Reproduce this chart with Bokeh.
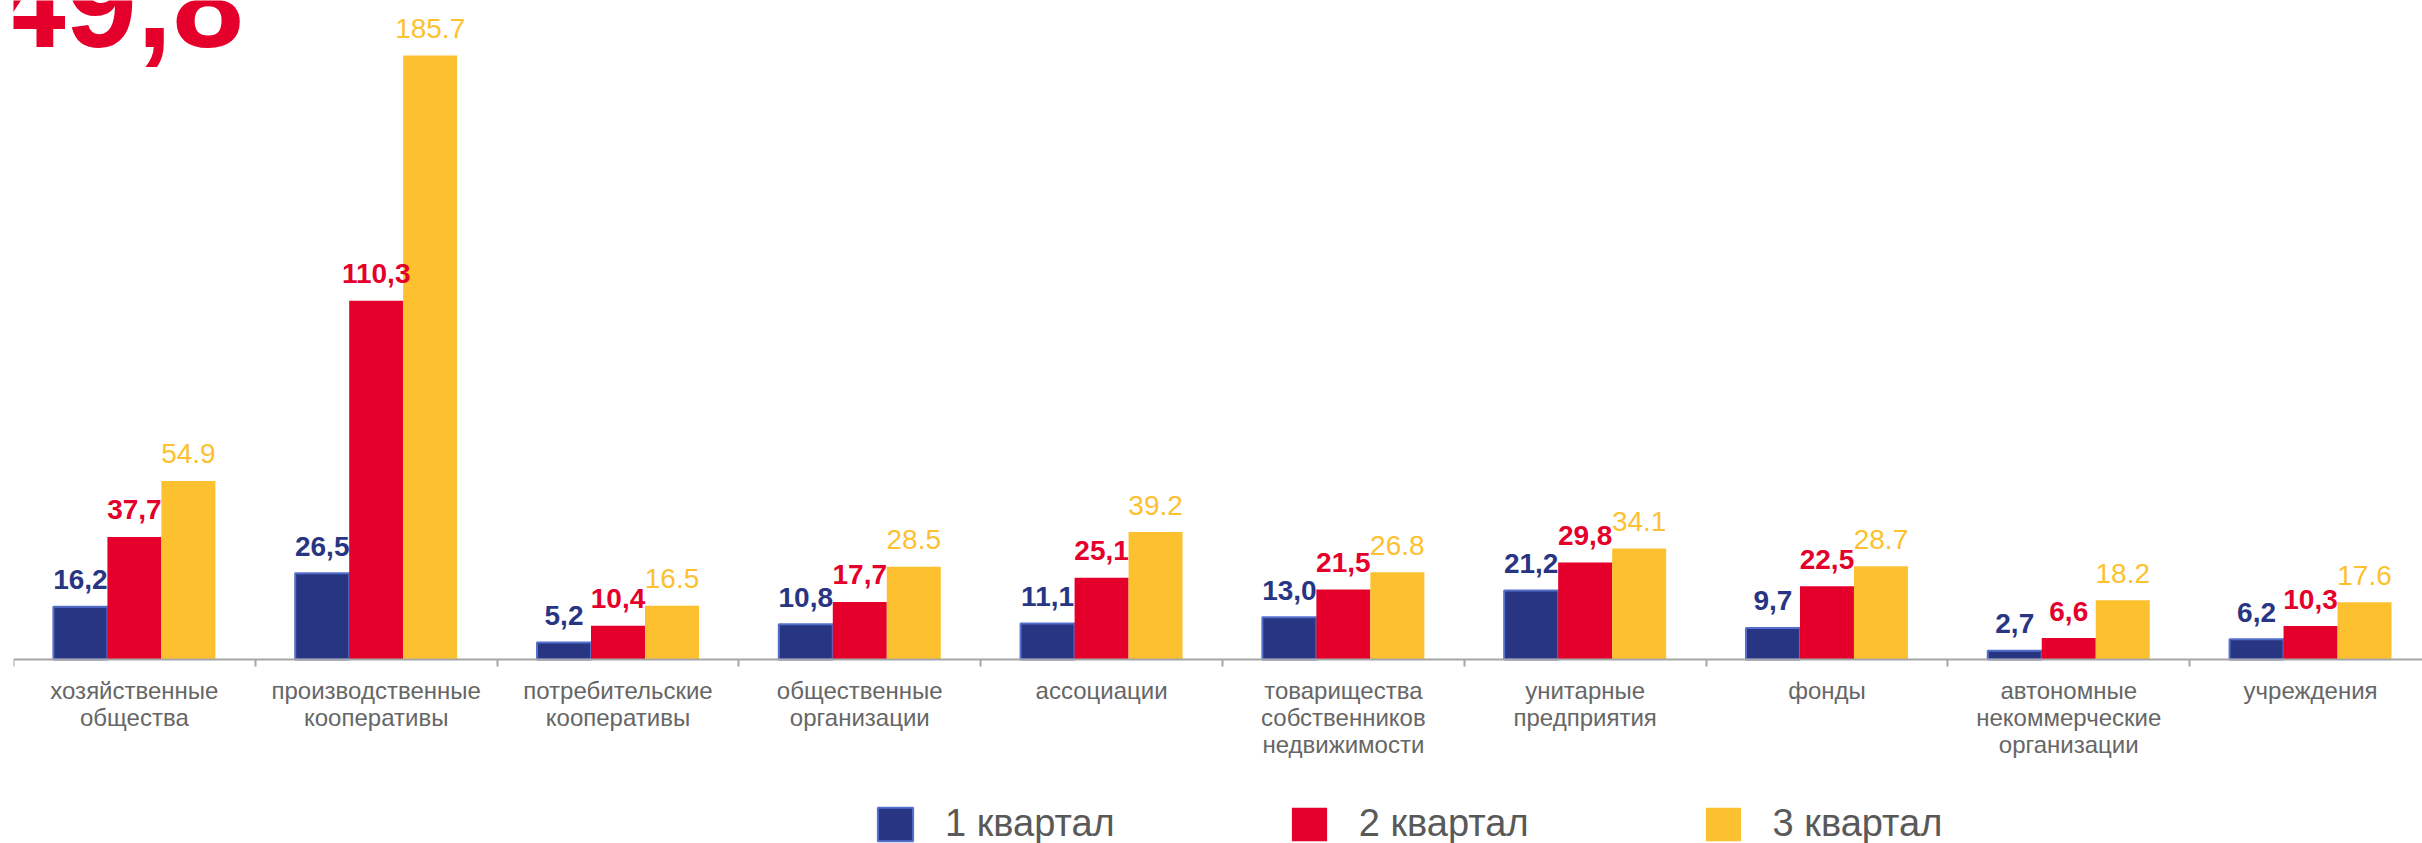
import numpy as np
from bokeh.plotting import figure
from bokeh.models import Range1d, FixedTicker, ColumnDataSource, Label
from bokeh.transform import dodge
from bokeh.core.properties import value
from bokeh.embed import file_html
from bokeh.resources import INLINE

# ---- data ----
categories = [
    "хозяйственные\nобщества",
    "производственные\nкооперативы",
    "потребительские\nкооперативы",
    "общественные\nорганизации",
    "ассоциации",
    "товарищества\nсобственников\nнедвижимости",
    "унитарные\nпредприятия",
    "фонды",
    "автономные\nнекоммерческие\nорганизации",
    "учреждения",
]
q1 = [16.2, 26.5, 5.2, 10.8, 11.1, 13.0, 21.2, 9.7, 2.7, 6.2]
q2 = [37.7, 110.3, 10.4, 17.7, 25.1, 21.5, 29.8, 22.5, 6.6, 10.3]
q3 = [54.9, 185.7, 16.5, 28.5, 39.2, 26.8, 34.1, 28.7, 18.2, 17.6]
series_names = ["1 квартал", "2 квартал", "3 квартал"]
headline = "49,8"

# ---- style ----
FONT = "Liberation Sans"
BLUE = "#283583"
BLUE_EDGE = "#5470cc"
RED = "#e4002b"
YELLOW = "#fdc12f"
AXIS_GRAY = "#a6a6a6"
LABEL_GRAY = "#666666"
LEGEND_GRAY = "#595959"

n = len(categories)
pos = np.arange(n) + 0.5

src = ColumnDataSource(dict(
    x=pos,
    q1=q1, q2=q2, q3=q3,
    l1=[f"{v:.1f}".replace(".", ",") for v in q1],
    l2=[f"{v:.1f}".replace(".", ",") for v in q2],
    l3=[f"{v:.1f}" for v in q3],
))

p = figure(width=2422, height=843,
           x_range=Range1d(0, 9.963), y_range=Range1d(-56.57, 202.61),
           output_backend="svg", toolbar_location=None,
           y_axis_location=None,
           min_border_left=13, min_border_right=0,
           min_border_top=0, min_border_bottom=0)
p.grid.visible = False
p.outline_line_color = None
p.background_fill_color = "white"
p.border_fill_color = "white"

W = 0.2233

p.vbar(x=dodge("x", -W, range=p.x_range), top="q1", width=W, source=src,
       fill_color=BLUE, line_color=BLUE_EDGE, line_width=2,
       legend_label=series_names[0])
p.vbar(x=dodge("x", 0, range=p.x_range), top="q2", width=W, source=src,
       fill_color=RED, line_color=None, legend_label=series_names[1])
p.vbar(x=dodge("x", W, range=p.x_range), top="q3", width=W, source=src,
       fill_color=YELLOW, line_color=None, legend_label=series_names[2])

for off, col, lab, colr, style in [(-W, "q1", "l1", BLUE, "bold"),
                                   (0, "q2", "l2", RED, "bold"),
                                   (W, "q3", "l3", YELLOW, "normal")]:
    p.text(x=dodge("x", off, range=p.x_range), y=col, text=lab, source=src,
           text_align="center", text_baseline="alphabetic", y_offset=-27,
           text_font=value(FONT), text_font_size="28px",
           text_font_style=style, text_color=colr)

ax = p.xaxis[0]
ax.fixed_location = 0
ax.ticker = FixedTicker(ticks=list(pos), minor_ticks=list(range(n + 1)))
ax.major_label_overrides = {float(x): c for x, c in zip(pos, categories)}
ax.major_tick_out = 0
ax.major_tick_in = 0
ax.minor_tick_out = 7
ax.minor_tick_in = 0
ax.minor_tick_line_color = AXIS_GRAY
ax.minor_tick_line_width = 2
ax.axis_line_color = AXIS_GRAY
ax.axis_line_width = 2
ax.major_label_text_font = FONT
ax.major_label_text_font_size = "24px"
ax.major_label_text_color = LABEL_GRAY
ax.major_label_text_line_height = 1.0
ax.major_label_standoff = 10

leg = p.legend[0]
leg.orientation = "horizontal"
leg.location = (860, -2)
leg.glyph_width = 44
leg.glyph_height = 42
leg.label_height = 42
leg.label_text_font = FONT
leg.label_text_font_size = "38px"
leg.label_text_color = LEGEND_GRAY
leg.label_standoff = 28
leg.spacing = 172
leg.padding = 0
leg.margin = 0
leg.border_line_color = None
leg.background_fill_alpha = 0

p.add_layout(Label(x=-0.0786, y=202.0, text=headline,
                   text_font=FONT, text_font_size="128px",
                   text_font_style="bold", text_color=RED,
                   text_baseline="alphabetic", text_align="left"))

open("out.html", "w").write(file_html(p, INLINE))
